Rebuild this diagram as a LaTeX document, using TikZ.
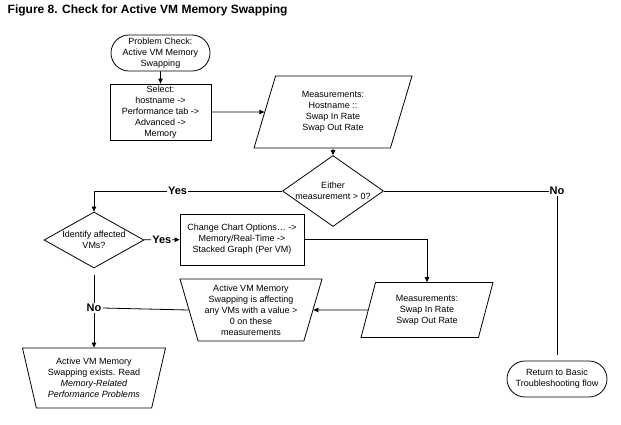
\documentclass[tikz,border=0pt]{standalone}
\usepackage{fontspec}
\setmainfont{Liberation Sans}
\usetikzlibrary{positioning,arrows.meta,shapes.geometric,shapes.misc}

\begin{document}
\begin{tikzpicture}[x=1pt, y=-1pt, >={Triangle[length=5pt,width=4.5pt]}, line width=0.8pt,
  every node/.style={font=\fontsize{9}{11}\selectfont, align=center},
  term/.style={draw, rounded rectangle, minimum width=101pt, minimum height=36pt, inner sep=1pt},
  proc/.style={draw, rectangle, inner sep=1pt},
  io/.style={draw, trapezium, trapezium stretches body, inner sep=1pt},
  decision/.style={draw, diamond, inner sep=0pt},
  lbl/.style={font=\bfseries\fontsize{11}{11}\selectfont, fill=white, inner sep=1pt}]
\useasboundingbox (0,0) rectangle (621,424);

% title
\node[font=\bfseries\fontsize{12}{14}\selectfont, anchor=base west] (title) at (4,13) {Figure 8. Check for Active VM Memory Swapping};

% top column
\node[term] (start) at (160.5,53) {Problem Check:\\Active VM Memory\\Swapping};
\node[proc, minimum width=101pt, minimum height=56pt] (sel) at (160.5,112) {Select:\\hostname ->\\Performance tab ->\\Advanced ->\\Memory};
\node[io, trapezium left angle=63.4, trapezium right angle=116.6, minimum width=158pt, minimum height=72pt] (meas) at (333,112) {Measurements:\\Hostname ::\\Swap In Rate\\Swap Out Rate};
\node[decision, minimum width=101pt, minimum height=71pt, label={[align=center]center:Either\\measurement > 0?}] (either) at (333,191) {};

% yes branch
\node[decision, minimum width=100pt, minimum height=56pt, label={[align=center]center:Identify affected\\VMs?}] (ident) at (94,240) {};
\node[proc, minimum width=124pt, minimum height=51pt] (chg) at (242,239.5) {Change Chart Options… ->\\Memory/Real-Time ->\\Stacked Graph (Per VM)};
\node[io, trapezium left angle=65.6, trapezium right angle=114.4, minimum width=132pt, minimum height=55pt] (meas2) at (427,310) {Measurements:\\Swap In Rate\\Swap Out Rate};
\node[io, trapezium left angle=109, trapezium right angle=109, minimum width=142pt, minimum height=62pt] (aff) at (251,310) {Active VM Memory\\Swapping is affecting\\any VMs with a value >\\0 on these\\measurements};
\node[io, trapezium left angle=108.4, trapezium right angle=108.4, minimum width=143pt, minimum height=60pt] (exist) at (94,378) {Active VM Memory\\Swapping exists. Read\\\textit{Memory-Related}\\\textit{Performance Problems}};

% no branch
\node[term, minimum width=102pt] (ret) at (557,379) {Return to Basic\\Troubleshooting flow};

% connectors
\draw[->] (start) -- (sel);
\draw[->] (sel) -- (meas);
\draw[->] (meas) -- (either);
\draw[->] (either.west) -| node[lbl, pos=0.278] (yes1) {Yes} (ident.north);
\draw[shorten >=6pt] (either.east) -| node[lbl, pos=0.5] (no2) {No} (ret.north);
\draw[->] (ident) -- node[lbl] (yes2) {Yes} (chg);
\draw[->] (chg) -| (meas2);
\draw[->] (meas2) -- (aff);
\draw[->, shorten <=7pt] (ident) -- node[lbl] (no1) {No} (exist);
\draw (aff.west) -- (no1.east);
\end{tikzpicture}
\end{document}
